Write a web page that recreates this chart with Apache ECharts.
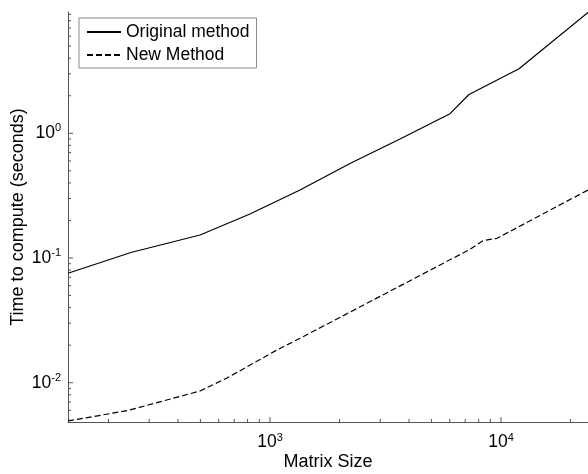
<!DOCTYPE html>
<html>
<head>
<meta charset="utf-8">
<style>
  html, body { margin: 0; padding: 0; background: #fff; }
  #chart { width: 588px; height: 474px; }
</style>
<script src="https://cdn.jsdelivr.net/npm/echarts@6.0.0/dist/echarts.min.js"></script>
</head>
<body>
<div id="chart"></div>
<script>
// Matrix sizes and timings (seconds) for the two methods
const origSizes = [133.6, 250, 498, 819, 1349, 2220, 3654, 6015, 7270, 11966, 23800];
const origTimes = [0.0754, 0.1107, 0.1529, 0.2253, 0.351, 0.5727, 0.90, 1.436, 2.047, 3.297, 9.3];

const newSizes = [133.6, 243, 498, 652, 1072, 1349, 7342, 8358, 9610, 23800];
const newTimes = [0.00493, 0.00599, 0.00858, 0.01091, 0.01829, 0.0227, 0.1174, 0.1376, 0.1439, 0.351];

const seriesNames = ['Original method', 'New Method'];

// Tick positions on the logarithmic axes
const xMajorTicks = [1000, 10000];
const xMinorTicks = [200, 300, 400, 500, 600, 700, 800, 900,
                     2000, 3000, 4000, 5000, 6000, 7000, 8000, 9000, 20000];
const yMajorTicks = [0.01, 0.1, 1];
const yMinorTicks = [0.005, 0.006, 0.007, 0.008, 0.009,
                     0.02, 0.03, 0.04, 0.05, 0.06, 0.07, 0.08, 0.09,
                     0.2, 0.3, 0.4, 0.5, 0.6, 0.7, 0.8, 0.9,
                     2, 3, 4, 5, 6, 7, 8, 9];

const X_MIN = 133.6, X_MAX = 23800;
const Y_MIN = 0.00484, Y_MAX = 9.39;

const AXIS_COLOR = '#555';
const FONT = '"Liberation Sans", Arial, Helvetica, sans-serif';
const MAJOR_LEN = 5, MINOR_LEN = 3;

function powerLabel(v) {
  const e = Math.round(Math.log10(v));
  return '{b|10}{s|' + e + '}';
}
const powerRich = {
  b: { fontSize: 17.5, fontFamily: FONT, color: '#000' },
  s: { fontSize: 11, fontFamily: FONT, color: '#000', verticalAlign: 'bottom', padding: [0, 0, 10, 0] }
};

function pairs(xs, ys) {
  return xs.map((x, i) => [x, ys[i]]);
}

const chart = echarts.init(document.getElementById('chart'));

chart.setOption({
  animation: false,
  backgroundColor: '#fff',
  grid: { left: 68, right: 0, top: 12, bottom: 52, outerBoundsMode: 'none' },
  legend: {
    data: seriesNames,
    orient: 'vertical',
    left: 79,
    top: 18,
    itemWidth: 34,
    itemHeight: 14,
    itemGap: 3,
    padding: [4, 7, 3, 7],
    borderColor: '#8a8a8a',
    borderWidth: 1,
    backgroundColor: '#fff',
    itemStyle: { opacity: 0 },
    textStyle: { fontSize: 17.5, fontFamily: FONT, color: '#000', lineHeight: 20 }
  },
  xAxis: {
    type: 'log',
    min: X_MIN,
    max: X_MAX,
    name: 'Matrix Size',
    nameLocation: 'middle',
    nameGap: 31,
    nameMoveOverlap: false,
    nameTextStyle: { fontSize: 18, fontFamily: FONT, color: '#000' },
    axisLine: { show: true, lineStyle: { color: AXIS_COLOR, width: 1 } },
    axisTick: { show: false },
    axisLabel: { customValues: xMajorTicks, formatter: powerLabel, rich: powerRich, margin: 10 },
    splitLine: { show: false }
  },
  yAxis: {
    type: 'log',
    min: Y_MIN,
    max: Y_MAX,
    name: 'Time to compute (seconds)',
    nameLocation: 'middle',
    nameGap: 41,
    nameMoveOverlap: false,
    nameTextStyle: { fontSize: 18, fontFamily: FONT, color: '#000' },
    axisLine: { show: true, lineStyle: { color: AXIS_COLOR, width: 1 } },
    axisTick: { show: false },
    axisLabel: { customValues: yMajorTicks, formatter: powerLabel, rich: powerRich, margin: 7 },
    splitLine: { show: false }
  },
  series: [
    {
      name: seriesNames[0],
      type: 'line',
      data: pairs(origSizes, origTimes),
      showSymbol: false,
      symbol: 'none',
      lineStyle: { color: '#000', width: 1.2, type: 'solid' },
      itemStyle: { color: '#000' }
    },
    {
      name: seriesNames[1],
      type: 'line',
      data: pairs(newSizes, newTimes),
      showSymbol: false,
      symbol: 'none',
      lineStyle: { color: '#000', width: 1.2, type: [6, 3] },
      itemStyle: { color: '#000' }
    }
  ]
});

// Inward tick marks drawn as short two-point line series on the same log axes.
// Tick lengths are given in pixels and turned into log-space factors using
// the pixel size of one decade on each axis.
const toPx = v => chart.convertToPixel({ xAxisIndex: 0, yAxisIndex: 0 }, v);
const xDecadePx = toPx([10000, Y_MIN])[0] - toPx([1000, Y_MIN])[0];
const yDecadePx = toPx([X_MIN, 0.01])[1] - toPx([X_MIN, 0.1])[1];

function tickSeries(points) {
  return {
    type: 'line',
    data: points,
    showSymbol: false,
    symbol: 'none',
    silent: true,
    z: 1,
    lineStyle: { color: AXIS_COLOR, width: 1, type: 'solid' },
    itemStyle: { color: AXIS_COLOR }
  };
}
const tickList = [];
xMajorTicks.forEach(v => tickList.push(tickSeries([[v, Y_MIN], [v, Y_MIN * Math.pow(10, MAJOR_LEN / yDecadePx)]])));
xMinorTicks.forEach(v => tickList.push(tickSeries([[v, Y_MIN], [v, Y_MIN * Math.pow(10, MINOR_LEN / yDecadePx)]])));
yMajorTicks.forEach(v => tickList.push(tickSeries([[X_MIN, v], [X_MIN * Math.pow(10, MAJOR_LEN / xDecadePx), v]])));
yMinorTicks.forEach(v => tickList.push(tickSeries([[X_MIN, v], [X_MIN * Math.pow(10, MINOR_LEN / xDecadePx), v]])));

chart.setOption({ series: chart.getOption().series.slice(0, 2).concat(tickList) });
</script>
</body>
</html>
